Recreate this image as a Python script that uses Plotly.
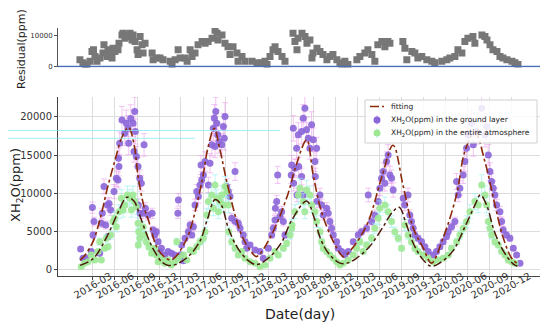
import plotly.graph_objects as go
from datetime import datetime, timedelta

# ---------------- data (decimal years, ppm) ----------------
ground_year = [2016.027, 2016.053, 2016.087, 2016.147, 2016.167, 2016.178, 2016.160, 2016.243, 2016.261, 2016.272,
               2016.291, 2016.311, 2016.329, 2016.348, 2016.337, 2016.367, 2016.405, 2016.431, 2016.450, 2016.461,
               2016.455, 2016.469, 2016.495, 2016.544, 2016.564, 2016.526, 2016.571, 2016.594, 2016.620, 2016.639,
               2016.646, 2016.631, 2016.658, 2016.677, 2016.696, 2016.714, 2016.745, 2016.680, 2016.699, 2016.734,
               2016.760, 2016.790, 2016.836, 2016.847, 2016.866, 2016.884, 2016.904, 2016.923, 2016.941, 2016.980,
               2017.017, 2017.055, 2017.093, 2017.110, 2017.160, 2017.190, 2017.128, 2017.134,
               2017.172, 2017.210, 2017.247, 2017.267, 2017.286, 2017.304, 2017.323, 2017.343, 2017.361, 2017.380,
               2017.391, 2017.399, 2017.417, 2017.437, 2017.474, 2017.493, 2017.513, 2017.531, 2017.542, 2017.558,
               2017.569, 2017.581, 2017.550, 2017.595, 2017.626, 2017.644, 2017.663, 2017.655, 2017.683, 2017.701,
               2017.720, 2017.777, 2017.739, 2017.780, 2017.814, 2017.834, 2017.871, 2017.890, 2017.909, 2017.947,
               2018.004, 2018.060, 2018.098, 2018.155, 2018.193, 2018.211, 2018.231, 2018.235, 2018.250, 2018.261,
               2018.287, 2018.306, 2018.325, 2018.344, 2018.420, 2018.438,
               2018.476, 2018.495, 2018.533, 2018.551, 2018.570, 2018.589, 2018.608, 2018.646, 2018.627, 2018.665,
               2018.684, 2018.703, 2018.415, 2018.442, 2018.457, 2018.480, 2018.500, 2018.533, 2018.551, 2018.688,
               2018.707, 2018.741, 2018.760, 2018.778, 2018.817, 2018.835, 2018.854, 2018.873, 2018.892, 2018.930,
               2018.949, 2018.987, 2019.024, 2019.062, 2019.119, 2019.175, 2019.213, 2019.270, 2019.289, 2019.327,
               2019.364, 2019.402, 2019.421, 2019.440, 2019.459, 2019.478, 2019.497, 2019.515, 2019.535, 2019.554,
               2019.572, 2019.686,
               2019.703, 2019.741, 2019.761, 2019.780, 2019.799, 2019.818, 2019.855, 2019.894, 2019.932, 2019.969,
               2020.026, 2020.064, 2020.102, 2020.139, 2020.177, 2020.196, 2020.234, 2020.272, 2020.291, 2020.309,
               2020.328, 2020.366, 2020.385, 2020.404, 2020.423, 2020.461, 2020.480, 2020.518, 2020.575, 2020.612,
               2020.631, 2020.650, 2020.669, 2020.688, 2020.706, 2020.725, 2020.744, 2020.782, 2020.801, 2020.819,
               2020.857, 2020.895, 2020.933, 2020.971, 2021.009]
ground_ppm = [2745, 1525, 1610, 2400, 4575, 6320, 8150, 2180, 6100, 7400,
              10900, 5880, 8500, 8700, 4360, 7840, 10240, 11980, 11760, 13500,
              14600, 16560, 19600, 19170, 18500, 17860, 16560, 19800, 19170, 20700,
              18080, 15470, 14810, 13500, 11980, 11330, 16340, 8500, 7400, 7400,
              8060, 7190, 7400, 5230, 4575, 5010, 3700, 2400, 2830, 1960,
              2400, 2180, 1960, 1500, 2000, 1200, 7400, 9150,
              3270, 4140, 5010, 5880, 4575, 5660, 8500, 10240, 9590, 11110,
              13720, 11760, 12420, 14160, 11110, 13940, 16340, 18520, 19820, 20700,
              19170, 17650, 16120, 16770, 16340, 18740, 20040, 17210, 10900, 10240,
              9590, 12850, 6750, 6320, 6100, 5450, 4575, 3700, 2830, 3270,
              2610, 2400, 1525, 2830, 4575, 5450, 6540, 8060, 8930, 12420,
              6970, 7620, 6320, 4575, 13720, 18500,
              15900, 17650, 18080, 19820, 21130, 18300, 17210, 18960, 15900, 17000,
              14160, 15900, 12420, 11330, 13290, 9800, 13500, 12200, 9800, 12200,
              8930, 9800, 8500, 7190, 8060, 7400, 6320, 5450, 4575, 3700,
              2830, 2400, 1960, 2400, 3700, 4575, 5010, 5450, 9800, 6320,
              7190, 8930, 10680, 11980, 12850, 11330, 14160, 15030, 12420, 11980,
              10460, 9370,
              8500, 9800, 7190, 6320, 5450, 4575, 4140, 3700, 3050, 2400,
              1960, 2400, 3050, 3700, 4360, 5010, 5660, 6320, 11550, 9800,
              10680, 12420, 14160, 15900, 17650, 19170, 16340, 18080, 21130, 17650,
              18740, 15030, 12850, 11550, 10680, 9800, 8500, 7620, 6320, 5230,
              4575, 4140, 2830, 1960, 870]

entire_year = [2016.034, 2016.072, 2016.110, 2016.147, 2016.186, 2016.223, 2016.243, 2016.261, 2016.299, 2016.317,
               2016.337, 2016.367, 2016.393, 2016.413, 2016.431, 2016.461, 2016.488, 2016.507, 2016.526, 2016.556,
               2016.583, 2016.601, 2016.620, 2016.639, 2016.658, 2016.677, 2016.685, 2016.696, 2016.680, 2016.734,
               2016.753, 2016.771, 2016.800, 2016.830, 2016.866, 2016.884, 2016.904, 2016.941, 2016.980, 2017.017,
               2017.055, 2017.093,
               2017.116, 2017.134, 2017.191, 2017.229, 2017.267, 2017.304, 2017.343, 2017.380, 2017.417, 2017.437,
               2017.456, 2017.474, 2017.513, 2017.531, 2017.550, 2017.569, 2017.588, 2017.607, 2017.626, 2017.644,
               2017.663, 2017.683, 2017.701, 2017.705, 2017.739, 2017.777, 2017.814, 2017.853, 2017.890, 2017.947,
               2018.004, 2018.060, 2018.117, 2018.174, 2018.231, 2018.268, 2018.325, 2018.363, 2018.401, 2018.420,
               2018.424, 2018.457, 2018.495, 2018.514, 2018.551, 2018.570, 2018.589, 2018.627, 2018.646, 2018.684,
               2018.703, 2018.741, 2018.760, 2018.778, 2018.817, 2018.854, 2018.892, 2018.930, 2018.968, 2019.005,
               2019.062, 2019.119, 2019.157, 2019.194, 2019.232, 2019.270, 2019.327, 2019.364, 2019.402, 2019.421,
               2019.478, 2019.515, 2019.554, 2019.591, 2019.629, 2019.667, 2019.705,
               2019.741, 2019.780, 2019.818, 2019.855, 2019.912, 2019.969, 2020.026, 2020.082, 2020.139, 2020.196,
               2020.234, 2020.291, 2020.328, 2020.366, 2020.404, 2020.442, 2020.498, 2020.536, 2020.575, 2020.612,
               2020.631, 2020.650, 2020.669, 2020.688, 2020.725, 2020.763, 2020.801, 2020.839, 2020.876, 2020.914,
               2020.952]
entire_ppm = [435, 870, 1090, 1960, 1300, 2400, 3700, 1300, 2830, 4140,
              3050, 4575, 6320, 6750, 5660, 7620, 9370, 7840, 8500, 9800,
              9370, 7840, 9800, 8930, 8280, 6100, 5010, 4140, 3270, 5660,
              4575, 3700, 3000, 2200, 2830, 1960, 1090, 1525, 870, 1300,
              650, 1090,
              3700, 1525, 1960, 1300, 2610, 2400, 3050, 3700, 4140, 5010,
              7190, 8930, 9800, 8060, 11110, 9370, 7620, 8930, 9800, 8500,
              10900, 10240, 8500, 5010, 3700, 2830, 1960, 2400, 1525, 1090,
              870, 435, 650, 1525, 2400, 1960, 2830, 3490, 4575, 5450,
              5880, 7620, 9800, 10680, 8930, 7620, 10460, 9800, 8500, 7620,
              6320, 5010, 3700, 2830, 2400, 1960, 1525, 1090, 650, 870,
              1300, 1960, 2830, 3700, 2400, 3270, 4140, 5450, 6750, 8060,
              8500, 7620, 6320, 5010, 4140, 2830, 5880,
              4575, 3700, 2830, 2400, 1960, 1525, 1090, 1300, 1525, 1960,
              2830, 3700, 4575, 5450, 6320, 7620, 8930, 8500, 11110, 9800,
              8500, 6320, 5450, 4575, 3700, 3270, 2400, 1960, 1300, 1090,
              870]

fit_ground_year = [2016.02, 2016.08, 2016.167, 2016.25, 2016.33, 2016.42, 2016.50, 2016.57, 2016.63, 2016.68,
                   2016.75, 2016.80, 2016.87, 2016.92, 2017.00, 2017.05, 2017.10, 2017.18, 2017.26, 2017.40,
                   2017.47, 2017.54, 2017.60, 2017.70, 2017.85, 2017.96, 2018.02, 2018.19, 2018.38, 2018.46,
                   2018.59, 2018.664, 2018.758, 2018.872, 2018.967, 2019.005, 2019.137, 2019.288, 2019.439, 2019.571,
                   2019.685, 2019.799, 2019.912, 2020.006, 2020.139, 2020.29, 2020.385, 2020.498, 2020.612, 2020.725,
                   2020.819, 2020.913, 2020.97]
fit_ground_ppm = [1300, 2000, 3700, 6800, 10700, 14500, 17500, 18600, 16500, 12000,
                  8000, 6300, 3500, 2400, 1500, 1300, 1700, 3000, 5000, 11500,
                  16000, 18500, 16000, 10700, 4575, 2400, 1750, 4575, 10000, 13300,
                  17000, 12400, 7600, 4200, 2200, 1750, 3270, 6300, 12000, 16300,
                  11000, 5500, 2900, 900, 4200, 9800, 15500, 18000, 14150, 8500,
                  4200, 1570, 900]

fit_entire_year = [2016.02, 2016.17, 2016.33, 2016.45, 2016.55, 2016.63, 2016.70, 2016.78, 2016.86, 2016.95,
                   2017.02, 2017.10, 2017.25, 2017.38, 2017.46, 2017.55, 2017.62, 2017.70, 2017.80, 2017.92,
                   2018.02, 2018.15, 2018.30, 2018.42, 2018.59, 2018.67, 2018.75, 2018.85, 2018.97, 2019.05,
                   2019.15, 2019.30, 2019.45, 2019.56, 2019.64, 2019.72, 2019.80, 2019.90, 2020.00, 2020.10,
                   2020.25, 2020.38, 2020.50, 2020.56, 2020.63, 2020.72, 2020.82, 2020.93, 2020.98]
fit_entire_ppm = [600, 1500, 4500, 7500, 9500, 9000, 7000, 4500, 2500, 1000,
                  600, 700, 1800, 3800, 6500, 9200, 8500, 5500, 3000, 1300,
                  700, 1500, 3500, 6500, 9000, 7000, 4000, 2000, 900, 900,
                  1500, 3000, 5500, 7500, 8200, 6000, 3500, 1500, 500, 900,
                  2500, 5500, 8500, 9800, 8500, 5000, 2500, 800, 500]

resid_year = [2016.019, 2016.053, 2016.076, 2016.099, 2016.133, 2016.155, 2016.172, 2016.189, 2016.212, 2016.246,
              2016.280, 2016.291, 2016.325, 2016.337, 2016.359, 2016.382, 2016.393, 2016.416, 2016.450, 2016.461,
              2016.495, 2016.507, 2016.529, 2016.552, 2016.564, 2016.586, 2016.609, 2016.620, 2016.643, 2016.666,
              2016.677, 2016.700, 2016.722, 2016.734, 2016.756, 2016.836, 2016.847, 2016.892, 2016.926, 2016.960,
              2017.040, 2017.062, 2017.097, 2017.131, 2017.153, 2017.210, 2017.233, 2017.267, 2017.289, 2017.323,
              2017.357, 2017.403, 2017.437, 2017.471, 2017.516, 2017.550, 2017.573, 2017.584, 2017.629, 2017.663,
              2017.697, 2017.720, 2017.754, 2017.799, 2017.811, 2017.856, 2017.890, 2017.970, 2018.026, 2018.083,
              2018.117, 2018.140, 2018.174, 2018.208, 2018.231, 2018.265, 2018.310, 2018.344, 2018.435, 2018.457,
              2018.480, 2018.491, 2018.537, 2018.571, 2018.593, 2018.627, 2018.650, 2018.661, 2018.707, 2018.741,
              2018.775, 2018.820, 2018.854, 2018.888, 2018.933, 2018.968, 2018.990, 2019.024, 2019.058, 2019.160,
              2019.194, 2019.251, 2019.285, 2019.330, 2019.364, 2019.398, 2019.444, 2019.478, 2019.512, 2019.535,
              2019.682, 2019.705, 2019.727, 2019.784, 2019.818, 2019.852, 2019.897, 2019.954, 2020.011, 2020.045,
              2020.124, 2020.181, 2020.215, 2020.272, 2020.306, 2020.351, 2020.385, 2020.419, 2020.476, 2020.498,
              2020.578, 2020.612, 2020.635, 2020.669, 2020.703, 2020.748, 2020.782, 2020.816, 2020.861, 2020.918,
              2020.952, 2020.986]
resid_ppm = [2250, 1200, 600, 600, 1700, 4950, 5500, 3300, 1700, 2800,
             4400, 7100, 3300, 5500, 4400, 2800, 6000, 4950, 5500, 7600,
             10300, 10850, 9250, 10300, 9800, 10850, 8700, 10300, 8200, 5500,
             3900, 9800, 7100, 4400, 7600, 4400, 2250, 2800, 2800, 2250,
             1700, 650, 2250, 5500, 2800, 2800, 1700, 5500, 3300, 4400,
             7100, 8200, 7600, 8200, 9250, 11900, 10850, 8700, 10300, 7600,
             6500, 3900, 6500, 4400, 1700, 3300, 1700, 1700, 1200, 1200,
             1700, 650, 3300, 5500, 6500, 4950, 3300, 1700, 10850, 8200,
             5500, 9250, 10850, 9800, 7600, 8700, 2800, 4400, 6000, 4950,
             3900, 2250, 3300, 3900, 2250, 1200, 100, 1700, 650, 2250,
             3300, 4400, 5500, 3900, 1700, 7100, 8200, 6500, 8200, 7600,
             8200, 6000, 2250, 4950, 4400, 2800, 3300, 2250, 1700, 1200,
             1700, 2250, 2800, 3300, 5500, 4400, 8200, 9250, 9800, 7600,
             10300, 9800, 8700, 7100, 5500, 4950, 3300, 2800, 2250, 1700,
             1200, 650]

tick_labels = ["2016-03", "2016-06", "2016-09", "2016-12", "2017-03", "2017-06", "2017-09", "2017-12",
               "2018-03", "2018-06", "2018-09", "2018-12", "2019-03", "2019-06", "2019-09", "2019-12",
               "2020-03", "2020-06", "2020-09", "2020-12"]

legend_labels = ["fitting", "XH<sub>2</sub>O(ppm) in the ground layer",
                 "XH<sub>2</sub>O(ppm) in the entire atmosphere"]

PURPLE = "#8b66d8"
GREEN = "#9ee894"
FIT = "#8b2a0a"


def to_dt(y):
    yr = int(y)
    start = datetime(yr, 1, 1)
    ndays = (datetime(yr + 1, 1, 1) - start).days
    return start + timedelta(days=(y - yr) * ndays)


def conv(lst):
    return [to_dt(v) for v in lst]


tick_dates = [datetime(int(t[:4]), int(t[5:]), 1) for t in tick_labels]
x_range = [to_dt(2015.770), to_dt(2021.236)]

fig = go.Figure()

# residual panel
fig.add_trace(go.Scatter(x=conv(resid_year), y=resid_ppm, mode="markers", xaxis="x", yaxis="y",
                         marker=dict(symbol="square", size=7, color="#777777"), showlegend=False))

# main panel
fig.add_trace(go.Scatter(x=conv(ground_year), y=ground_ppm, mode="markers", xaxis="x2", yaxis="y2",
                         name="XH2O(ppm) in the ground layer", showlegend=False,
                         marker=dict(size=7, color=PURPLE, opacity=0.9),
                         error_y=dict(type="percent", value=9, color="rgba(235,150,235,0.55)",
                                      thickness=1, width=3)))
fig.add_trace(go.Scatter(x=conv(entire_year), y=entire_ppm, mode="markers", xaxis="x2", yaxis="y2",
                         name="XH2O(ppm) in the entire atmosphere", showlegend=False,
                         marker=dict(size=7, color=GREEN, opacity=0.9),
                         error_y=dict(type="percent", value=12, color="rgba(150,240,240,0.6)",
                                      thickness=1, width=3)))
fig.add_trace(go.Scatter(x=conv(fit_ground_year), y=fit_ground_ppm, mode="lines", xaxis="x2", yaxis="y2",
                         name="fitting", showlegend=False,
                         line=dict(color=FIT, width=1.6, dash="dashdot", shape="spline", smoothing=1)))
fig.add_trace(go.Scatter(x=conv(fit_entire_year), y=fit_entire_ppm, mode="lines", xaxis="x2", yaxis="y2",
                         showlegend=False,
                         line=dict(color="#4a1a08", width=1.5, dash="dashdot", shape="spline", smoothing=1)))


def px(x):
    return (x - 58) / 482.0


def py(y):
    return (276 - y) / 248.0


ann = []
for d, t in zip(tick_dates, tick_labels):
    ann.append(dict(x=d, y=-0.038, xref="x2", yref="paper", text=t, showarrow=False, textangle=-30,
                    xanchor="center", yanchor="middle", font=dict(size=10, color="#333333")))
ann.append(dict(x=0.502, y=-0.153, xref="paper", yref="paper", text="Date(day)", showarrow=False,
                xanchor="center", yanchor="middle", font=dict(size=14, color="#222222")))
ann.append(dict(x=-0.085, y=0.367, xref="paper", yref="paper", text="XH<sub>2</sub>O(ppm)", showarrow=False,
                xanchor="center", yanchor="middle", textangle=-90, font=dict(size=13, color="#222222")))
ann.append(dict(x=px(21), y=py(49), xref="paper", yref="paper", text="Residual(ppm)", showarrow=False,
                xanchor="center", yanchor="middle", textangle=-90, font=dict(size=11, color="#222222")))

shapes = [
    dict(type="line", xref="paper", yref="y", x0=0, x1=1, y0=0, y1=0, line=dict(color="#4a6fb8", width=1.5)),
    dict(type="line", xref="paper", yref="paper", x0=px(0), x1=px(280), y0=py(130.5), y1=py(130.5),
         line=dict(color="rgba(120,235,245,0.7)", width=1)),
    dict(type="line", xref="paper", yref="paper", x0=px(0), x1=px(195), y0=py(138.3), y1=py(138.3),
         line=dict(color="rgba(120,235,245,0.7)", width=1)),
]

# legend box (drawn by hand to match the compact matplotlib legend)
shapes.append(dict(type="rect", xref="paper", yref="paper", x0=px(365), x1=px(537), y0=py(143), y1=py(100),
                   line=dict(color="#d0d0d0", width=1), fillcolor="rgba(255,255,255,0.85)", layer="above"))
shapes.append(dict(type="line", xref="paper", yref="paper", x0=px(370), x1=px(384), y0=py(106.5), y1=py(106.5),
                   line=dict(color=FIT, width=1.6, dash="dashdot"), layer="above"))
for yc, col, ecol in [(120, PURPLE, "rgba(200,120,220,0.8)"), (133, GREEN, "rgba(150,235,235,0.9)")]:
    shapes.append(dict(type="line", xref="paper", yref="paper", x0=px(377), x1=px(377), y0=py(yc + 4.5),
                       y1=py(yc - 4.5), line=dict(color=ecol, width=1), layer="above"))
    shapes.append(dict(type="circle", xref="paper", yref="paper", x0=px(373.5), x1=px(380.5), y0=py(yc + 3.5),
                       y1=py(yc - 3.5), fillcolor=col, line=dict(width=0), layer="above"))
for yc, lab in zip([106.5, 120, 133], legend_labels):
    ann.append(dict(x=px(389), y=py(yc), xref="paper", yref="paper", text=lab, showarrow=False,
                    xanchor="left", yanchor="middle", font=dict(size=7.5, color="#222222")))

fig.update_layout(
    width=542, height=321,
    margin=dict(l=50, r=10, t=20, b=53),
    paper_bgcolor="white", plot_bgcolor="white",
    showlegend=False,
    font=dict(family="DejaVu Sans", size=10, color="#333333"),
    xaxis=dict(domain=[0, 1], anchor="y", range=x_range, type="date", visible=False),
    yaxis=dict(domain=[0.841, 1], anchor="x", range=[-300, 12600], tickvals=[0, 10000], tickformat="d",
               showline=True, linecolor="#555555", linewidth=1, ticks="outside", ticklen=3,
               tickcolor="#555555", showgrid=False, zeroline=False, tickfont=dict(size=7)),
    xaxis2=dict(domain=[0, 1], anchor="y2", range=x_range, type="date", tickvals=tick_dates,
                showticklabels=False, showgrid=True, gridcolor="#dddddd", gridwidth=1,
                showline=True, linecolor="#444444", linewidth=1, ticks="outside", ticklen=3,
                tickcolor="#444444", zeroline=False),
    yaxis2=dict(domain=[0, 0.722], anchor="x2", range=[-784, 22600], tickformat="d",
                tickvals=[0, 5000, 10000, 15000, 20000], showgrid=True, gridcolor="#dddddd",
                showline=True, linecolor="#444444", linewidth=1, ticks="outside", ticklen=3,
                tickcolor="#444444", zeroline=False, tickfont=dict(size=10)),
    annotations=ann, shapes=shapes,
)

fig.write_html("out.html")
